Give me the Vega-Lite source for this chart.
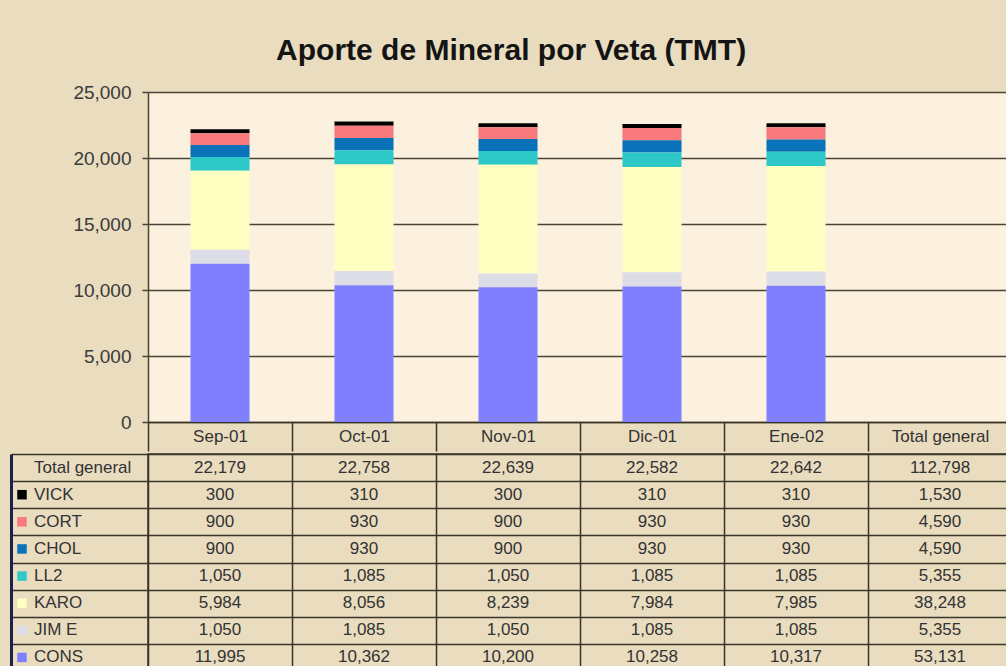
{
  "$schema": "https://vega.github.io/schema/vega-lite/v6.json",
  "background": "#E9DCBF",
  "padding": {"left": 9, "top": 36, "right": 0, "bottom": 0},
  "title": {"text": "Aporte de Mineral por Veta (TMT)", "fontSize": 30, "fontWeight": "bold", "color": "#141414", "anchor": "middle", "offset": 17},
  "config": {"font": "Liberation Sans", "view": {"stroke": null}},
  "spacing": 0,
  "data": {"values": [
    {"mes": "Sep-01", "veta": "Total general", "tmt": 22179},
    {"mes": "Sep-01", "veta": "VICK", "tmt": 300},
    {"mes": "Sep-01", "veta": "CORT", "tmt": 900},
    {"mes": "Sep-01", "veta": "CHOL", "tmt": 900},
    {"mes": "Sep-01", "veta": "LL2", "tmt": 1050},
    {"mes": "Sep-01", "veta": "KARO", "tmt": 5984},
    {"mes": "Sep-01", "veta": "JIM E", "tmt": 1050},
    {"mes": "Sep-01", "veta": "CONS", "tmt": 11995},
    {"mes": "Oct-01", "veta": "Total general", "tmt": 22758},
    {"mes": "Oct-01", "veta": "VICK", "tmt": 310},
    {"mes": "Oct-01", "veta": "CORT", "tmt": 930},
    {"mes": "Oct-01", "veta": "CHOL", "tmt": 930},
    {"mes": "Oct-01", "veta": "LL2", "tmt": 1085},
    {"mes": "Oct-01", "veta": "KARO", "tmt": 8056},
    {"mes": "Oct-01", "veta": "JIM E", "tmt": 1085},
    {"mes": "Oct-01", "veta": "CONS", "tmt": 10362},
    {"mes": "Nov-01", "veta": "Total general", "tmt": 22639},
    {"mes": "Nov-01", "veta": "VICK", "tmt": 300},
    {"mes": "Nov-01", "veta": "CORT", "tmt": 900},
    {"mes": "Nov-01", "veta": "CHOL", "tmt": 900},
    {"mes": "Nov-01", "veta": "LL2", "tmt": 1050},
    {"mes": "Nov-01", "veta": "KARO", "tmt": 8239},
    {"mes": "Nov-01", "veta": "JIM E", "tmt": 1050},
    {"mes": "Nov-01", "veta": "CONS", "tmt": 10200},
    {"mes": "Dic-01", "veta": "Total general", "tmt": 22582},
    {"mes": "Dic-01", "veta": "VICK", "tmt": 310},
    {"mes": "Dic-01", "veta": "CORT", "tmt": 930},
    {"mes": "Dic-01", "veta": "CHOL", "tmt": 930},
    {"mes": "Dic-01", "veta": "LL2", "tmt": 1085},
    {"mes": "Dic-01", "veta": "KARO", "tmt": 7984},
    {"mes": "Dic-01", "veta": "JIM E", "tmt": 1085},
    {"mes": "Dic-01", "veta": "CONS", "tmt": 10258},
    {"mes": "Ene-02", "veta": "Total general", "tmt": 22642},
    {"mes": "Ene-02", "veta": "VICK", "tmt": 310},
    {"mes": "Ene-02", "veta": "CORT", "tmt": 930},
    {"mes": "Ene-02", "veta": "CHOL", "tmt": 930},
    {"mes": "Ene-02", "veta": "LL2", "tmt": 1085},
    {"mes": "Ene-02", "veta": "KARO", "tmt": 7985},
    {"mes": "Ene-02", "veta": "JIM E", "tmt": 1085},
    {"mes": "Ene-02", "veta": "CONS", "tmt": 10317},
    {"mes": "Total general", "veta": "Total general", "tmt": 112798},
    {"mes": "Total general", "veta": "VICK", "tmt": 1530},
    {"mes": "Total general", "veta": "CORT", "tmt": 4590},
    {"mes": "Total general", "veta": "CHOL", "tmt": 4590},
    {"mes": "Total general", "veta": "LL2", "tmt": 5355},
    {"mes": "Total general", "veta": "KARO", "tmt": 38248},
    {"mes": "Total general", "veta": "JIM E", "tmt": 5355},
    {"mes": "Total general", "veta": "CONS", "tmt": 53131}
  ]},
  "vconcat": [
    {
      "width": 864,
      "height": 330,
      "view": {"fill": "#FBF1DE", "stroke": null},
      "transform": [
        {"filter": "datum.veta != 'Total general' && datum.mes != 'Total general'"},
        {"calculate": "indexof(['CONS','JIM E','KARO','LL2','CHOL','CORT','VICK'], datum.veta)", "as": "orden"}
      ],
      "mark": {"type": "bar", "stroke": null, "width": {"band": 0.41}},
      "encoding": {
        "x": {
          "field": "mes", "type": "nominal",
          "scale": {"type": "band", "domain": ["Sep-01", "Oct-01", "Nov-01", "Dic-01", "Ene-02", "Total general"], "paddingInner": 0, "paddingOuter": 0},
          "axis": {"title": null, "orient": "bottom", "labelAngle": 0, "labelFontSize": 17, "labelColor": "#333333", "labelBaseline": "middle", "labelPadding": -15, "ticks": true, "tickBand": "extent", "tickSize": 29, "tickColor": "#3b3428", "tickWidth": 1.5, "domain": true, "domainColor": "#3b3428", "domainWidth": 1.5, "grid": false}
        },
        "y": {
          "field": "tmt", "type": "quantitative", "stack": "zero",
          "scale": {"domain": [0, 25000], "nice": false},
          "axis": {"title": null, "values": [0, 5000, 10000, 15000, 20000, 25000], "format": ",.0f", "labelFontSize": 19, "labelColor": "#3a3a3a", "labelPadding": 11, "tickSize": 6, "tickColor": "#4a4438", "tickWidth": 1.5, "domainColor": "#4a4438", "domainWidth": 1.5, "grid": true, "gridColor": "#4a4438", "gridWidth": 1.5}
        },
        "color": {
          "field": "veta", "type": "nominal",
          "scale": {"domain": ["CONS", "JIM E", "KARO", "LL2", "CHOL", "CORT", "VICK"], "range": ["#8080FF", "#DDDDE8", "#FFFFC2", "#2EC8C8", "#0A72B8", "#F87A7C", "#000000"]},
          "legend": null
        },
        "order": {"field": "orden", "type": "quantitative", "sort": "ascending"}
      }
    },
    {
      "width": 864,
      "height": 217,
      "view": {"stroke": "#3b3428", "strokeWidth": 1.5},
      "encoding": {
        "x": {
          "field": "mes", "type": "nominal",
          "scale": {"type": "band", "domain": ["Sep-01", "Oct-01", "Nov-01", "Dic-01", "Ene-02", "Total general"], "paddingInner": 0, "paddingOuter": 0},
          "axis": {"orient": "top", "labels": false, "ticks": false, "domain": false, "title": null, "grid": true, "tickBand": "extent", "gridColor": "#3b3428", "gridWidth": 1.5}
        },
        "y": {
          "field": "veta", "type": "nominal",
          "scale": {"type": "band", "domain": ["Total general", "VICK", "CORT", "CHOL", "LL2", "KARO", "JIM E", "CONS"], "paddingInner": 0, "paddingOuter": 0},
          "axis": {"labels": false, "title": null, "offset": 137, "domain": true, "domainColor": "#1c2050", "domainWidth": 3, "ticks": true, "tickSize": -137, "tickBand": "extent", "tickColor": "#3b3428", "tickWidth": 1.5, "grid": true, "gridColor": "#3b3428", "gridWidth": 1.5}
        }
      },
      "layer": [
        {
          "mark": {"type": "text", "fontSize": 17, "color": "#333333"},
          "encoding": {"text": {"field": "tmt", "type": "quantitative", "format": ","}}
        },
        {
          "transform": [{"filter": "datum.mes == 'Sep-01'"}],
          "mark": {"type": "text", "align": "left", "dx": -114, "fontSize": 17, "color": "#333333"},
          "encoding": {
            "x": {"field": "mes", "type": "nominal", "bandPosition": 0},
            "text": {"field": "veta", "type": "nominal"}
          }
        },
        {
          "transform": [{"filter": "datum.mes == 'Sep-01' && datum.veta != 'Total general'"}],
          "mark": {"type": "point", "shape": "square", "filled": true, "size": 90, "opacity": 1, "xOffset": -126},
          "encoding": {
            "x": {"field": "mes", "type": "nominal", "bandPosition": 0},
            "color": {
              "field": "veta", "type": "nominal",
              "scale": {"domain": ["CONS", "JIM E", "KARO", "LL2", "CHOL", "CORT", "VICK"], "range": ["#8080FF", "#DDDDE8", "#FFFFC2", "#2EC8C8", "#0A72B8", "#F87A7C", "#000000"]},
              "legend": null
            }
          }
        }
      ]
    }
  ]
}
